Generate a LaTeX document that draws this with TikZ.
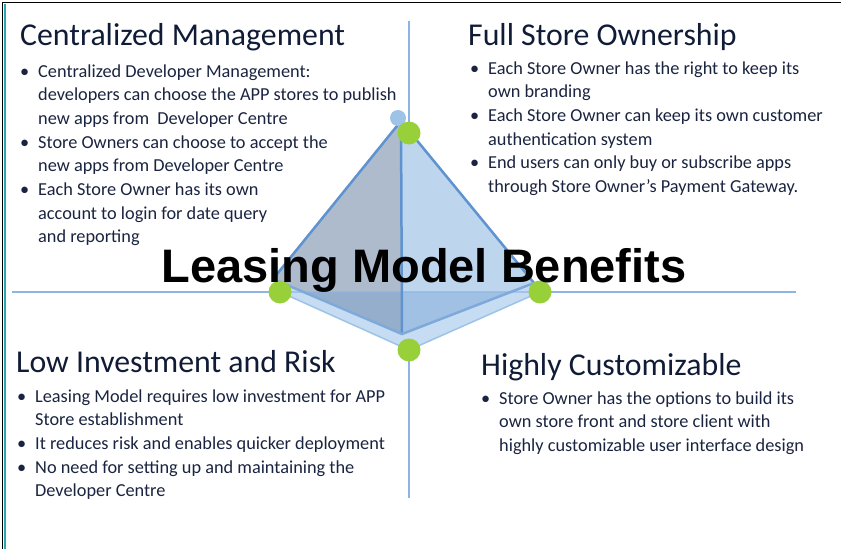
\documentclass[tikz,border=0pt]{standalone}
\usepackage{fontspec}
\setmainfont{Carlito}
\newfontfamily\titlefont{Liberation Sans}
\usepackage{xcolor}
\usetikzlibrary{positioning}

\definecolor{headnavy}{HTML}{101C36}
\definecolor{textnavy}{HTML}{1A2440}
\definecolor{axisblue}{HTML}{8DB4E2}
\definecolor{edgeblue}{HTML}{5E93CF}
\definecolor{bandblue}{HTML}{C5DCF3}
\definecolor{bandedge}{HTML}{9DC3E6}
\definecolor{faceleft}{HTML}{ADBBCC}
\definecolor{faceright}{HTML}{BDD6EE}
\definecolor{dotgreen}{HTML}{98D03A}
\definecolor{apexblue}{HTML}{9DC3E6}
\definecolor{frameteal}{HTML}{2AA7B0}

% bullet hung to the left of the text column
\newcommand{\itm}{\llap{\textbullet\hspace{9pt}}}

\begin{document}
\begin{tikzpicture}[
    x=1pt, y=-1pt,
    heading/.style={anchor=base west, inner sep=0pt, font=\fontsize{31.8}{36}\selectfont, text=headnavy},
    bullets/.style={anchor=base west, inner sep=0pt, font=\fontsize{18.3}{23.7}\selectfont, text=textnavy},
    axis/.style={draw=axisblue, line width=2pt},
    edge/.style={draw=edgeblue, line width=2.5pt, line join=round, line cap=round},
    dot/.style={circle, fill=dotgreen, minimum size=23pt, inner sep=0pt},
  ]
  \useasboundingbox (0,0) rectangle (841,549);

  % Frame on top and left
  \draw[black, line width=1.5pt] (841,2.5) -- (2.5,2.5) -- (2.5,549);
  \draw[frameteal, line width=1.2pt] (5,4) -- (5,549);

  % Radar points and pyramid corners
  \coordinate (ptop) at (409,133);
  \coordinate (pright) at (540,292);
  \coordinate (pbottom) at (409,350);
  \coordinate (pleft) at (280,292);
  \coordinate (apex) at (401,121);
  \coordinate (cl) at (273,279);
  \coordinate (cb) at (402,334);
  \coordinate (cr) at (534,283);

  % Axes
  \coordinate (vtop) at (409,21);
  \coordinate (vbot) at (409,498);
  \coordinate (hleft) at (12,292);
  \coordinate (hright) at (796,292);
  \draw[axis] (vtop) -- (vbot);
  \draw[axis] (hleft) -- (hright);

  % Radar band
  \filldraw[fill=bandblue, draw=bandedge, line width=1.5pt, line join=round]
    (ptop) -- (pright) -- (pbottom) -- (pleft) -- cycle;

  % Pyramid faces
  \fill[faceleft] (apex) -- (cl) -- (cb) -- cycle;
  \fill[faceright] (apex) -- (cb) -- (cr) -- cycle;
  \begin{scope}
    \clip (0,292) rectangle (841,549);
    \fill[edgeblue, opacity=0.3] (apex) -- (cl) -- (cb) -- (cr) -- cycle;
  \end{scope}
  \draw[axis, opacity=0.6] (cl |- hleft) -- (cr |- hleft);

  % Pyramid edges
  \draw[edge] (cl) -- (apex) -- (cr);
  \draw[edge] (apex) -- (cb);
  \draw[edge, draw=edgeblue!80] (cl) -- (cb) -- (cr);

  % Markers
  \fill[apexblue] (398,118) circle (8);
  \node[dot] (dtop) at (ptop) {};
  \node[dot] (dright) at (pright) {};
  \node[dot] (dbottom) at (pbottom) {};
  \node[dot] (dleft) at (pleft) {};

  % Title
  \node[anchor=base, inner sep=0pt, font=\titlefont\bfseries\fontsize{47}{50}\selectfont] (title) at (424,282) {Leasing Model Benefits};

  % Top left quadrant
  \node[heading] (central) at (20,45) {Centralized Management};
  \node[bullets] (centrallist) at (38,77) {\begin{tabular}[t]{@{}l@{}}
    \itm Centralized Developer Management:\\
    developers can choose the APP stores to publish\\
    new apps from\ \ Developer Centre\\
    \itm Store Owners can choose to accept the\\
    new apps from Developer Centre\\
    \itm Each Store Owner has its own\\
    account to login for date query\\
    and reporting
  \end{tabular}};

  % Top right quadrant
  \node[heading] (owner) at (468,45) {Full Store Ownership};
  \node[bullets] (ownerlist) at (488,74) {\begin{tabular}[t]{@{}l@{}}
    \itm Each Store Owner has the right to keep its\\
    own branding\\
    \itm Each Store Owner can keep its own customer\\
    authentication system\\
    \itm End users can only buy or subscribe apps\\
    through Store Owner’s Payment Gateway.
  \end{tabular}};

  % Bottom left quadrant
  \node[heading] (invest) at (16,372) {Low Investment and Risk};
  \node[bullets] (investlist) at (35,402) {\begin{tabular}[t]{@{}l@{}}
    \itm Leasing Model requires low investment for APP\\
    Store establishment\\
    \itm It reduces risk and enables quicker deployment\\
    \itm No need for setting up and maintaining the\\
    Developer Centre
  \end{tabular}};

  % Bottom right quadrant
  \node[heading] (custom) at (481,375) {Highly Customizable};
  \node[bullets] (customlist) at (499,404) {\begin{tabular}[t]{@{}l@{}}
    \itm Store Owner has the options to build its\\
    own store front and store client with\\
    highly customizable user interface design
  \end{tabular}};

\end{tikzpicture}
\end{document}
